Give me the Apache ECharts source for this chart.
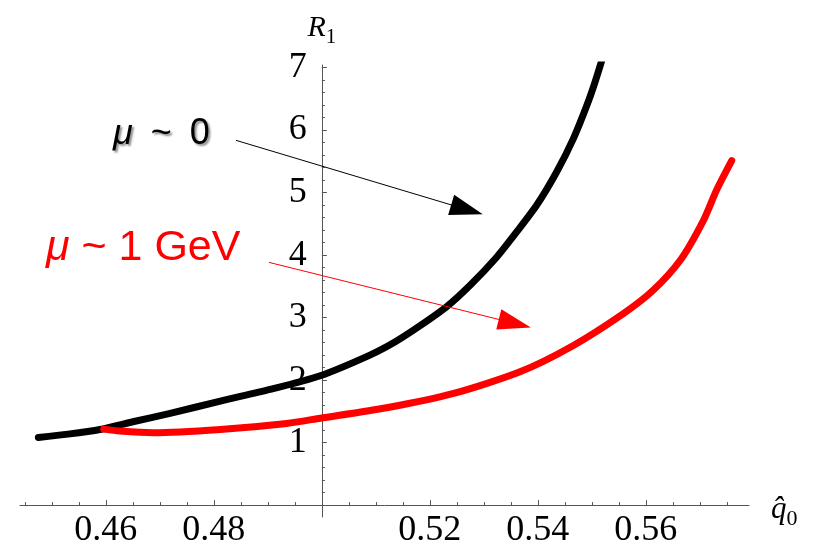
<!DOCTYPE html>
<html>
<head>
<meta charset="utf-8">
<script src="https://cdn.jsdelivr.net/npm/echarts@6/dist/echarts.min.js"></script>
<style>
  html, body { margin: 0; padding: 0; background: #ffffff; }
  #chart { width: 817px; height: 547px; }
</style>
</head>
<body>
<div id="chart"></div>
<script>
// R1 as a function of q0-hat, for mu ~ 0
const q0MuZero = [0.4475, 0.4530, 0.4589, 0.4650, 0.4719, 0.4812, 0.4904, 0.4997, 0.5089, 0.5136, 0.5182,
                  0.5231, 0.5275, 0.5324, 0.5361, 0.5398, 0.5435, 0.5466, 0.5491, 0.5506, 0.5525];
const r1MuZero = [1.083, 1.136, 1.21, 1.333, 1.467, 1.664, 1.85, 2.07, 2.40, 2.613, 2.87,
                  3.173, 3.52, 3.97, 4.373, 4.80, 5.333, 5.867, 6.40, 6.77, 7.30];

// R1 as a function of q0-hat, for mu ~ 1 GeV
const q0MuGeV = [0.4596, 0.4626, 0.4688, 0.4812, 0.4935, 0.4997, 0.5120, 0.5244, 0.5367, 0.5465,
                 0.5559, 0.5614, 0.5664, 0.5707, 0.5731, 0.5759];
const r1MuGeV = [1.216, 1.184, 1.157, 1.21, 1.307, 1.39, 1.557, 1.787, 2.133, 2.55,
                 3.067, 3.44, 3.92, 4.56, 5.04, 5.51];

// Axis ranges and ticks
const xRange = [0.4441, 0.5791];
const yRange = [-0.19, 7.04];
const xCross = 0.5;
const xMajorTicks = [0.46, 0.48, 0.50, 0.52, 0.54, 0.56];
const xTickLabels = [0.46, 0.48, 0.52, 0.54, 0.56];
const xMinorTicks = [0.445, 0.45, 0.455, 0.465, 0.47, 0.475, 0.485, 0.49, 0.495, 0.505, 0.51, 0.515,
                     0.525, 0.53, 0.535, 0.545, 0.55, 0.555, 0.565, 0.57, 0.575];
const yMajorTicks = [0, 1, 2, 3, 4, 5, 6, 7];
const yTickLabels = [1, 2, 3, 4, 5, 6, 7];
const yMinorTicks = [];
for (let k = 1; k <= 35; k++) { if (k % 5 !== 0) yMinorTicks.push(+(k * 0.2).toFixed(1)); }

// Annotation arrows (data coordinates: start, tip)
const arrowMuZero = [[0.4841, 5.835], [0.5298, 4.651]];
const arrowMuGeV = [[0.4902, 3.883], [0.5387, 2.843]];

const pairs = (xs, ys) => xs.map((x, i) => [x, ys[i]]);

const GRID = { left: 20, right: 68, top: 65, bottom: 30 };
const W = 817, H = 547;
const gridWidth = W - GRID.left - GRID.right;
const yAxisShift = -(xCross - xRange[0]) / (xRange[1] - xRange[0]) * gridWidth;

const axisColor = '#555555';
const serif = 'Liberation Serif';
const sans = 'Liberation Sans';

const chart = echarts.init(document.getElementById('chart'), null, { renderer: 'canvas' });

const tickLabelStyle = { color: '#000', fontFamily: serif, fontSize: 36 };

chart.setOption({
  backgroundColor: '#ffffff',
  animation: false,
  grid: { left: GRID.left, right: GRID.right, top: GRID.top, bottom: GRID.bottom, outerBoundsMode: 'none', containLabel: false },
  xAxis: [
    {
      type: 'value', min: xRange[0], max: xRange[1], position: 'bottom',
      axisLine: { show: true, onZero: true, onZeroAxisIndex: 0, lineStyle: { color: axisColor, width: 1 } },
      axisTick: { show: true, inside: true, length: 5, customValues: xMajorTicks, lineStyle: { color: axisColor } },
      axisLabel: Object.assign({ customValues: xTickLabels, margin: -4, formatter: v => v.toFixed(2) }, tickLabelStyle),
      splitLine: { show: false },
      name: '{q|q\u0302}{s|0}', nameLocation: 'end', nameGap: 22,
      nameTextStyle: {
        padding: [14, 0, 0, 0],
        rich: {
          q: { fontFamily: serif, fontStyle: 'italic', fontSize: 31, color: '#000', verticalAlign: 'bottom', padding: [0, 0, 5, 0] },
          s: { fontFamily: serif, fontSize: 22, color: '#000', verticalAlign: 'bottom' }
        }
      }
    },
    {
      type: 'value', min: xRange[0], max: xRange[1], position: 'bottom',
      axisLine: { show: false, onZero: true, onZeroAxisIndex: 0 },
      axisTick: { show: true, inside: true, length: 3, customValues: xMinorTicks, lineStyle: { color: axisColor } },
      axisLabel: { show: false },
      splitLine: { show: false }
    }
  ],
  yAxis: [
    {
      type: 'value', min: yRange[0], max: yRange[1], position: 'left', offset: yAxisShift,
      axisLine: { show: true, lineStyle: { color: axisColor, width: 1 } },
      axisTick: { show: true, inside: true, length: 5, customValues: yMajorTicks, lineStyle: { color: axisColor } },
      axisLabel: Object.assign({ customValues: yTickLabels, margin: 15 }, tickLabelStyle),
      splitLine: { show: false },
      name: '{r|R}{s|1}', nameLocation: 'end', nameGap: 17,
      nameTextStyle: {
        rich: {
          r: { fontFamily: serif, fontStyle: 'italic', fontSize: 30, color: '#000', verticalAlign: 'bottom', padding: [0, 0, 5, 0] },
          s: { fontFamily: serif, fontSize: 21, color: '#000', verticalAlign: 'bottom' }
        }
      }
    },
    {
      type: 'value', min: yRange[0], max: yRange[1], position: 'left', offset: yAxisShift,
      axisLine: { show: false },
      axisTick: { show: true, inside: true, length: 3, customValues: yMinorTicks, lineStyle: { color: axisColor } },
      axisLabel: { show: false },
      splitLine: { show: false }
    }
  ],
  series: [
    {
      name: 'mu ~ 0', type: 'line', xAxisIndex: 0, yAxisIndex: 0,
      data: pairs(q0MuZero, r1MuZero), showSymbol: false, smooth: 0.25, clip: true,
      lineStyle: { color: '#000000', width: 7, cap: 'round', join: 'round' }, z: 2
    },
    {
      name: 'mu ~ 1 GeV', type: 'line', xAxisIndex: 0, yAxisIndex: 0,
      data: pairs(q0MuGeV, r1MuGeV), showSymbol: false, smooth: 0.25, clip: true,
      lineStyle: { color: '#ff0000', width: 7, cap: 'round', join: 'round' }, z: 3
    }
  ]
});

// Arrow from a label towards its curve: a thin shaft ending in a filled triangle
function arrow(pts, color) {
  const p0 = chart.convertToPixel({ seriesIndex: 0 }, pts[0]);
  const p1 = chart.convertToPixel({ seriesIndex: 0 }, pts[1]);
  const dx = p1[0] - p0[0], dy = p1[1] - p0[1];
  const len = Math.hypot(dx, dy);
  const ux = dx / len, uy = dy / len, nx = -uy, ny = ux;
  const headLen = 33, headHalf = 10.5;
  const bx = p1[0] - ux * headLen, by = p1[1] - uy * headLen;
  return [
    { type: 'line', z: 50, shape: { x1: p0[0], y1: p0[1], x2: bx + ux * 3, y2: by + uy * 3 },
      style: { stroke: color, lineWidth: 1 } },
    { type: 'polygon', z: 51, shape: { points: [[p1[0], p1[1]], [bx + nx * headHalf, by + ny * headHalf], [bx - nx * headHalf, by - ny * headHalf]] },
      style: { fill: color } }
  ];
}

chart.setOption({
  graphic: [
    ...arrow(arrowMuZero, '#000000'),
    ...arrow(arrowMuGeV, '#ff0000'),
    {
      type: 'text', z: 60, x: 113, y: 134,
      style: {
        text: '{m|\u03bc}\u2002~\u20020',
        fontFamily: sans, fontSize: 36, fill: '#000000',
        align: 'left', verticalAlign: 'middle',
        textShadowColor: 'rgba(110,110,110,0.75)', textShadowBlur: 2, textShadowOffsetX: 2, textShadowOffsetY: 2,
        rich: { m: { fontFamily: sans, fontStyle: 'italic', fontSize: 36, fill: '#000000',
                     textShadowColor: 'rgba(110,110,110,0.75)', textShadowBlur: 2, textShadowOffsetX: 2, textShadowOffsetY: 2 } }
      }
    },
    {
      type: 'text', z: 60, x: 46, y: 248,
      style: {
        text: '{m|\u03bc} ~ 1 GeV',
        fontFamily: sans, fontSize: 43, fill: '#ff0000',
        align: 'left', verticalAlign: 'middle',
        textShadowColor: '#000000', textShadowBlur: 0, textShadowOffsetX: 2, textShadowOffsetY: 2,
        rich: { m: { fontFamily: sans, fontStyle: 'italic', fontSize: 43, fill: '#ff0000',
                     textShadowColor: '#000000', textShadowBlur: 0, textShadowOffsetX: 2, textShadowOffsetY: 2 } }
      }
    }
  ]
});
</script>
</body>
</html>
